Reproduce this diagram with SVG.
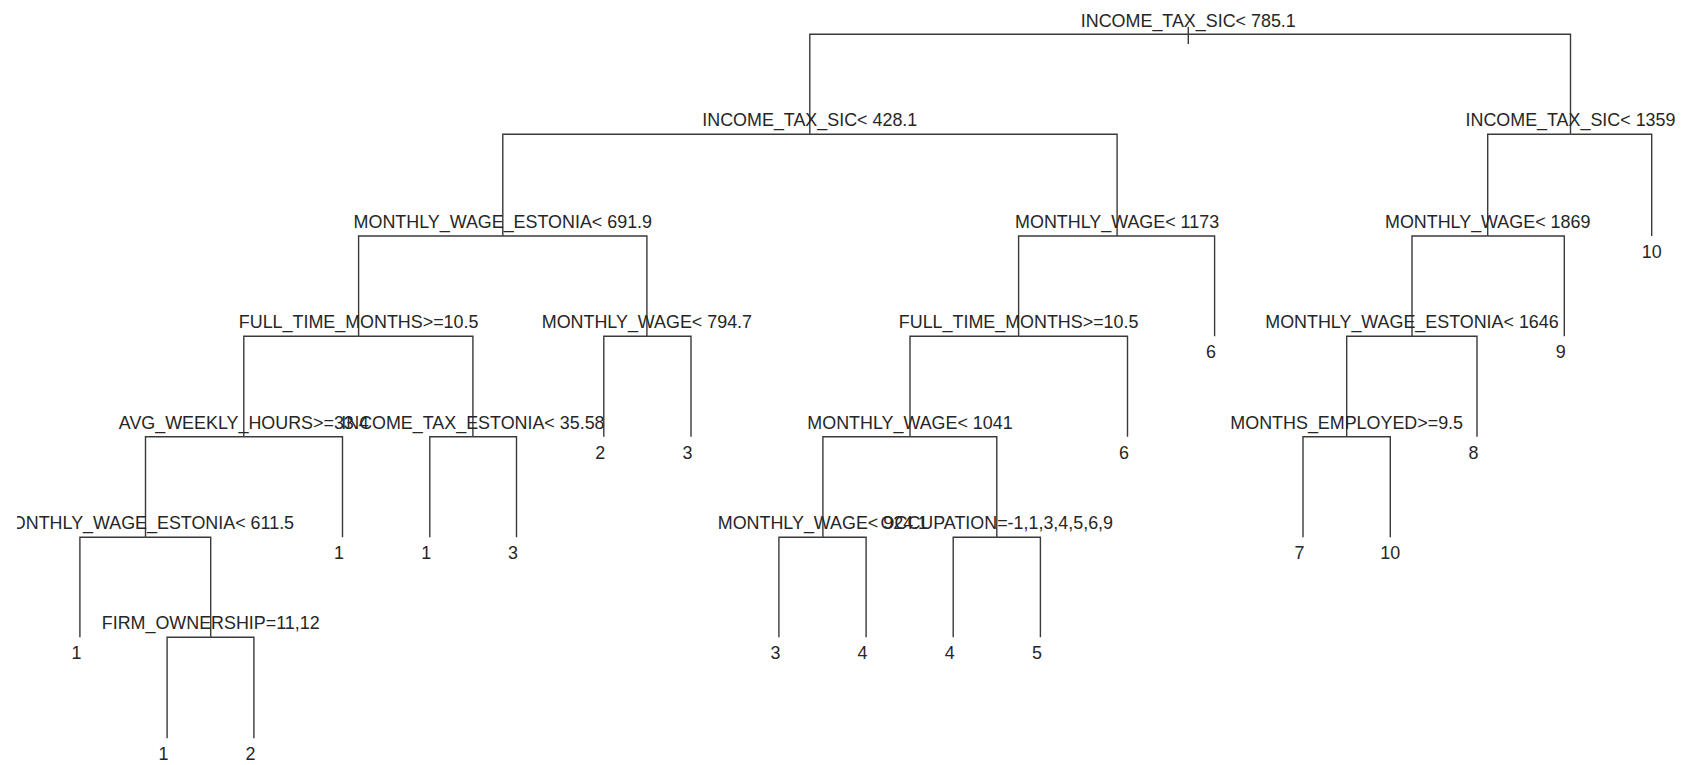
<svg xmlns="http://www.w3.org/2000/svg" width="1683" height="765" viewBox="0 0 1683 765">
<style>
.e{fill:none;stroke:#3a3a3a;stroke-width:1.4}
.t{font-family:"Liberation Sans",Arial,sans-serif;font-size:17.9px;fill:#262626;text-anchor:middle}
</style>
<defs><clipPath id="c"><rect x="17" y="0" width="1666" height="765"/></clipPath></defs>
<rect width="1683" height="765" fill="#fff"/>
<g clip-path="url(#c)">
<g id="connectors" class="e">
<path d="M1188.3,27 V44"/>
<path d="M1188.3,34.3 H809.8 V134.3"/>
<path d="M1188.3,34.3 H1570.5 V134.3"/>
<path d="M809.8,134.3 H502.8 V236"/>
<path d="M809.8,134.3 H1117.1 V236"/>
<path d="M1570.5,134.3 H1487.7 V236"/>
<path d="M1570.5,134.3 H1651.7 V236"/>
<path d="M502.8,236 H358.6 V336.3"/>
<path d="M502.8,236 H646.9 V336.3"/>
<path d="M1117.1,236 H1018.6 V336.3"/>
<path d="M1117.1,236 H1214.6 V336.3"/>
<path d="M1487.7,236 H1412 V336.3"/>
<path d="M1487.7,236 H1564.3 V336.3"/>
<path d="M358.6,336.3 H243.8 V436.7"/>
<path d="M358.6,336.3 H472.9 V436.7"/>
<path d="M646.9,336.3 H603.8 V436.7"/>
<path d="M646.9,336.3 H691 V436.7"/>
<path d="M1018.6,336.3 H910 V436.7"/>
<path d="M1018.6,336.3 H1127.5 V436.7"/>
<path d="M1412,336.3 H1346.7 V436.7"/>
<path d="M1412,336.3 H1477 V436.7"/>
<path d="M243.8,436.7 H145.5 V537.3"/>
<path d="M243.8,436.7 H342.5 V537.3"/>
<path d="M472.9,436.7 H429.8 V537.3"/>
<path d="M472.9,436.7 H516.5 V537.3"/>
<path d="M910,436.7 H822.9 V537.3"/>
<path d="M910,436.7 H996.8 V537.3"/>
<path d="M1346.7,436.7 H1303 V537.3"/>
<path d="M1346.7,436.7 H1390.3 V537.3"/>
<path d="M145.5,537.3 H79.9 V637.3"/>
<path d="M145.5,537.3 H210.7 V637.3"/>
<path d="M822.9,537.3 H778.9 V637.3"/>
<path d="M822.9,537.3 H866.1 V637.3"/>
<path d="M996.8,537.3 H953.2 V637.3"/>
<path d="M996.8,537.3 H1040.4 V637.3"/>
<path d="M210.7,637.3 H167.1 V738.3"/>
<path d="M210.7,637.3 H253.9 V738.3"/>
</g>
<g id="n_root"><text class="t" x="1188.3" y="26.5">INCOME_TAX_SIC&lt; 785.1</text></g>
<g id="n_A"><text class="t" x="809.8" y="126.3">INCOME_TAX_SIC&lt; 428.1</text></g>
<g id="n_B"><text class="t" x="1570.5" y="126.3">INCOME_TAX_SIC&lt; 1359</text></g>
<g id="n_A1"><text class="t" x="502.8" y="228">MONTHLY_WAGE_ESTONIA&lt; 691.9</text></g>
<g id="n_A2"><text class="t" x="1117.1" y="228">MONTHLY_WAGE&lt; 1173</text></g>
<g id="n_B1"><text class="t" x="1487.7" y="228">MONTHLY_WAGE&lt; 1869</text></g>
<g id="l_B2"><text class="t" x="1651.7" y="258">10</text></g>
<g id="n_A1a"><text class="t" x="358.6" y="328.3">FULL_TIME_MONTHS&gt;=10.5</text></g>
<g id="n_A1b"><text class="t" x="646.9" y="328.3">MONTHLY_WAGE&lt; 794.7</text></g>
<g id="n_A2a"><text class="t" x="1018.6" y="328.3">FULL_TIME_MONTHS&gt;=10.5</text></g>
<g id="l_A2b"><text class="t" x="1211.1" y="358.3">6</text></g>
<g id="n_B1a"><text class="t" x="1412" y="328.3">MONTHLY_WAGE_ESTONIA&lt; 1646</text></g>
<g id="l_B1b"><text class="t" x="1560.8" y="358.3">9</text></g>
<g id="n_A1a1"><text class="t" x="243.8" y="428.7">AVG_WEEKLY_HOURS&gt;=33.4</text></g>
<g id="n_A1a2"><text class="t" x="472.9" y="428.7">INCOME_TAX_ESTONIA&lt; 35.58</text></g>
<g id="l_A1b1"><text class="t" x="600.3" y="458.7">2</text></g>
<g id="l_A1b2"><text class="t" x="687.5" y="458.7">3</text></g>
<g id="n_A2a1"><text class="t" x="910" y="428.7">MONTHLY_WAGE&lt; 1041</text></g>
<g id="l_A2a2"><text class="t" x="1124" y="458.7">6</text></g>
<g id="n_B1a1"><text class="t" x="1346.7" y="428.7">MONTHS_EMPLOYED&gt;=9.5</text></g>
<g id="l_B1a2"><text class="t" x="1473.5" y="458.7">8</text></g>
<g id="n_A1a1a"><text class="t" x="145.5" y="529.3">MONTHLY_WAGE_ESTONIA&lt; 611.5</text></g>
<g id="l_A1a1b"><text class="t" x="339" y="559.3">1</text></g>
<g id="l_A1a2a"><text class="t" x="426.3" y="559.3">1</text></g>
<g id="l_A1a2b"><text class="t" x="513" y="559.3">3</text></g>
<g id="n_A2a1a"><text class="t" x="822.9" y="529.3">MONTHLY_WAGE&lt; 924.1</text></g>
<g id="n_A2a1b"><text class="t" x="996.8" y="529.3">OCCUPATION=-1,1,3,4,5,6,9</text></g>
<g id="l_B1a1a"><text class="t" x="1299.5" y="559.3">7</text></g>
<g id="l_B1a1b"><text class="t" x="1390.3" y="559.3">10</text></g>
<g id="l_A1a1a1"><text class="t" x="76.4" y="659.3">1</text></g>
<g id="n_A1a1a2"><text class="t" x="210.7" y="629.3">FIRM_OWNERSHIP=11,12</text></g>
<g id="l_A2a1a1"><text class="t" x="775.4" y="659.3">3</text></g>
<g id="l_A2a1a2"><text class="t" x="862.6" y="659.3">4</text></g>
<g id="l_A2a1b1"><text class="t" x="949.7" y="659.3">4</text></g>
<g id="l_A2a1b2"><text class="t" x="1036.9" y="659.3">5</text></g>
<g id="l_F1"><text class="t" x="163.6" y="760.3">1</text></g>
<g id="l_F2"><text class="t" x="250.4" y="760.3">2</text></g>
</g>
</svg>
